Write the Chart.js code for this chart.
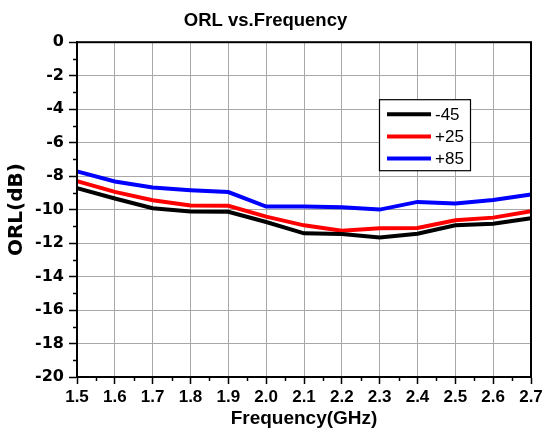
<!DOCTYPE html>
<html>
<head>
<meta charset="utf-8">
<title>ORL vs.Frequency</title>
<script src="https://cdn.jsdelivr.net/npm/chart.js@4/dist/chart.umd.min.js"></script>
<style>
  html,body{margin:0;padding:0;background:#fff;overflow:hidden}
  #wrap{position:relative;width:546px;height:434px}
</style>
</head>
<body>
<div id="wrap"><canvas id="c"></canvas></div>
<script>
// ---- data ----
const freqs = ['1.5','1.6','1.7','1.8','1.9','2.0','2.1','2.2','2.3','2.4','2.5','2.6','2.7'];
const orlM45 = [-8.72,-9.34,-9.92,-10.12,-10.13,-10.74,-11.42,-11.46,-11.66,-11.44,-10.94,-10.84,-10.52];
const orlP25 = [-8.30,-8.94,-9.44,-9.76,-9.77,-10.42,-10.94,-11.26,-11.12,-11.10,-10.64,-10.48,-10.10];
const orlP85 = [-7.72,-8.32,-8.68,-8.84,-8.95,-9.82,-9.82,-9.86,-10.00,-9.54,-9.63,-9.42,-9.10];
const seriesNames = ['-45','+25','+85'];
const yMin = -20, yMax = 0, yStep = 2;

const ARIAL = '"Liberation Sans", Arial, sans-serif';
const DEJAVU = '"DejaVu Sans", sans-serif';

// minor ticks, plot frame and the in-plot legend box
const extras = {
  id: 'extras',
  afterDatasetsDraw(chart){
    const {ctx, chartArea:a, scales:{x, y}} = chart;
    ctx.save();
    ctx.strokeStyle = '#000'; ctx.lineWidth = 1.5;
    // minor y ticks (odd dB)
    for (let v = yMin + 1; v < yMax; v += yStep){
      const py = Math.round(y.getPixelForValue(v)) + 0.5;
      ctx.beginPath(); ctx.moveTo(a.left - 4, py); ctx.lineTo(a.left, py); ctx.stroke();
    }
    // minor x ticks (half steps)
    for (let i = 0; i < freqs.length - 1; i++){
      const px = Math.round((x.getPixelForTick(i) + x.getPixelForTick(i + 1)) / 2) + 0.5;
      ctx.beginPath(); ctx.moveTo(px, a.bottom); ctx.lineTo(px, a.bottom + 4); ctx.stroke();
    }
    // frame
    ctx.lineWidth = 2;
    ctx.strokeRect(a.left, a.top, a.right - a.left, a.bottom - a.top);

    // legend
    const lx = a.left + 302, ly = a.top + 57, lw = 91, lh = 71;
    ctx.fillStyle = '#fff';
    ctx.fillRect(lx, ly, lw, lh);
    ctx.lineWidth = 1.2;
    ctx.strokeRect(lx + 0.5, ly + 0.5, lw, lh);
    ctx.font = '17px ' + ARIAL;
    ctx.textBaseline = 'middle';
    ctx.textAlign = 'left';
    chart.data.datasets.forEach((ds, i) => {
      const yy = ly + 15 + i * 22.2;
      ctx.strokeStyle = ds.borderColor; ctx.lineWidth = 4;
      ctx.beginPath(); ctx.moveTo(lx + 8, yy); ctx.lineTo(lx + 52, yy); ctx.stroke();
      ctx.fillStyle = '#000';
      ctx.fillText(ds.label, lx + 56, yy + 1);
    });
    ctx.restore();
  }
};

new Chart(document.getElementById('c'), {
  type: 'line',
  data: {
    labels: freqs,
    datasets: [
      {label: seriesNames[0], data: orlM45, borderColor: '#000000'},
      {label: seriesNames[1], data: orlP25, borderColor: '#ff0000'},
      {label: seriesNames[2], data: orlP85, borderColor: '#0000ff'}
    ].map(d => Object.assign(d, {borderWidth: 4, pointRadius: 0, tension: 0, fill: false, borderJoinStyle: 'miter'}))
  },
  options: {
    responsive: true,
    maintainAspectRatio: false,
    animation: false,
    layout: {padding: {left: 0, right: 15, top: 0, bottom: 0}},
    plugins: {
      legend: {display: false},
      tooltip: {enabled: false},
      title: {
        display: true, text: 'ORL vs.Frequency', color: '#000',
        font: {family: ARIAL, size: 18.5, weight: 'bold'},
        padding: {top: 10, bottom: 10}
      }
    },
    scales: {
      x: {
        type: 'category', offset: false,
        grid: {color: '#a8a8a8', lineWidth: 1, tickColor: '#000', tickLength: 7, tickWidth: 1.5},
        border: {display: true, color: '#000', width: 2},
        ticks: {color: '#000', font: {family: ARIAL, size: 17, weight: 'bold'}, padding: 3, maxRotation: 0, autoSkip: false},
        title: {display: true, text: 'Frequency(GHz)', color: '#000', font: {family: ARIAL, size: 19, weight: 'bold'}, padding: {top: 0, bottom: 4}},
        afterFit: s => { s.height = 57; }
      },
      y: {
        min: yMin, max: yMax,
        grid: {color: '#a8a8a8', lineWidth: 1, tickColor: '#000', tickLength: 8, tickWidth: 1.5},
        border: {display: true, color: '#000', width: 2},
        ticks: {stepSize: yStep, color: '#000', font: {family: DEJAVU, size: 16, weight: 'bold'}, padding: 5, callback: v => String(v)},
        title: {display: true, text: 'ORL(dB)', color: '#000', font: {family: DEJAVU, size: 20, weight: 'bold'}, padding: {top: 5, bottom: 0}},
        afterFit: s => { s.width = 77; }
      }
    }
  },
  plugins: [extras]
});
</script>
</body>
</html>
